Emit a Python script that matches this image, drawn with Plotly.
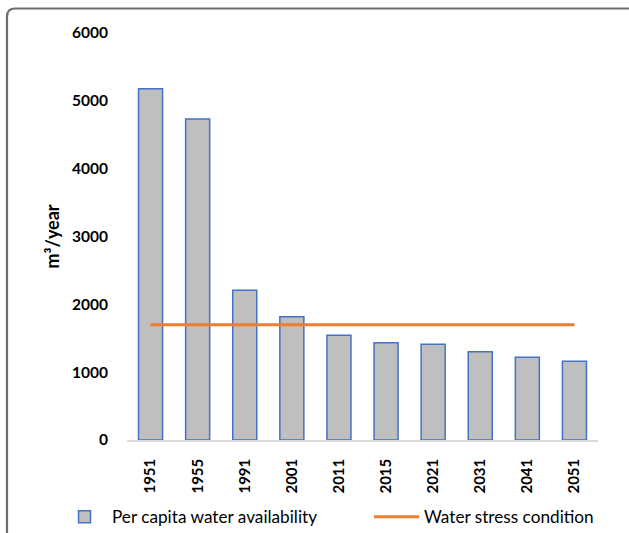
import plotly.graph_objects as go

years = ["1951", "1955", "1991", "2001", "2011", "2015", "2021", "2031", "2041", "2051"]
availability = [5177, 4732, 2209, 1816, 1545, 1434, 1410, 1300, 1220, 1160]
stress = [1700] * len(years)
y_ticks = [0, 1000, 2000, 3000, 4000, 5000, 6000]

W, H = 629, 533
ML, MR, MT, MB = 127, 31, 33, 93
PW, PH = W - ML - MR, H - MT - MB

def px(x):
    return (x - ML) / PW

def py(y):
    return (H - MB - y) / PH

FONT = "Lato"

fig = go.Figure()
fig.add_trace(go.Bar(
    x=years, y=availability, name="Per capita water availability",
    marker=dict(color="#bfbfbf", line=dict(color="#4472c4", width=1.5)),
    legend="legend",
))
fig.add_trace(go.Scatter(
    x=years, y=stress, name="Water stress condition", mode="lines",
    line=dict(color="#ed7d31", width=3),
    legend="legend2",
))

# outer chart border (rounded top-left corner)
x0, yt, yb, x1, r = px(7), py(8.5), py(545), px(640), 8
path = (f"M {x0},{yb} L {x0},{py(8.5 + r)} "
        f"Q {x0},{yt} {px(7 + r)},{yt} L {x1},{yt}")
fig.add_shape(type="path", path=path, xref="paper", yref="paper",
              line=dict(color="#6e6e6e", width=2.2), layer="below")

legend_common = dict(
    orientation="h", xanchor="left", y=py(517), yanchor="middle",
    font=dict(family=FONT, size=17.2, color="#000000"),
    itemwidth=45, bgcolor="rgba(0,0,0,0)",
)

fig.update_layout(
    width=W, height=H,
    margin=dict(l=ML, r=MR, t=MT, b=MB, pad=0, autoexpand=False),
    paper_bgcolor="white", plot_bgcolor="white",
    font=dict(family=FONT, color="#000000"),
    bargap=0.49,
    showlegend=True,
    legend=dict(x=px(57), **legend_common),
    legend2=dict(x=px(369), **legend_common),
    xaxis=dict(
        type="category", tickangle=-90, automargin=False,
        tickfont=dict(family=FONT, size=15, color="#000000", weight="bold"),
        showline=True, linecolor="#d9d9d9", linewidth=1.5,
        showgrid=False, ticks="", ticklabelstandoff=11,
    ),
    yaxis=dict(
        range=[0, 6000], tickvals=y_ticks, automargin=False,
        tickfont=dict(family=FONT, size=15.5, color="#000000", weight="bold"),
        showgrid=False, showline=False, zeroline=False, ticks="",
        ticklabelstandoff=18,
        title=dict(text="m³/year", font=dict(family=FONT, size=18, color="#000000", weight="bold"),
                   standoff=7),
    ),
)

fig.write_html("out.html")
